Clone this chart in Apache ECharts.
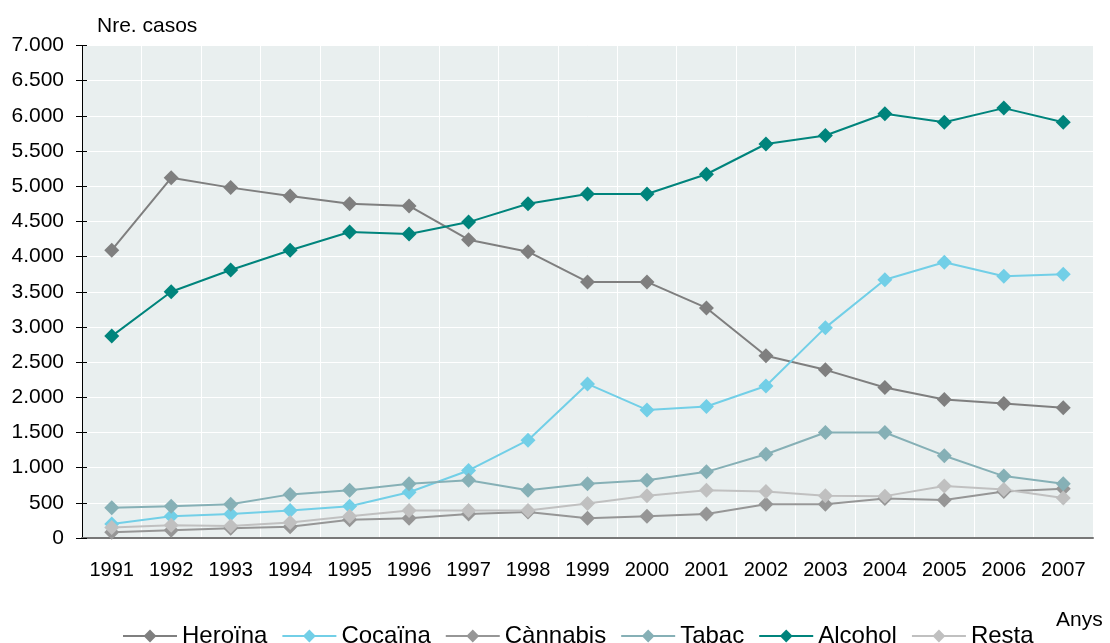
<!DOCTYPE html>
<html>
<head>
<meta charset="utf-8">
<script src="https://cdn.jsdelivr.net/npm/echarts@6/dist/echarts.min.js"></script>
<style>
  html, body { margin: 0; padding: 0; background: #fff; }
  #chart { width: 1110px; height: 643px; }
</style>
</head>
<body>
<div id="chart"></div>
<script>
var years = ['1991', '1992', '1993', '1994', '1995', '1996', '1997', '1998', '1999',
    '2000', '2001', '2002', '2003', '2004', '2005', '2006', '2007'];

var heroina = [4090, 5120, 4980, 4860, 4750, 4720, 4240, 4070, 3640, 3640, 3270, 2590, 2390, 2140, 1970, 1910, 1850];
var cocaina = [200, 310, 340, 390, 450, 650, 960, 1390, 2190, 1820, 1870, 2160, 2990, 3670, 3920, 3720, 3750];
var cannabis = [80, 110, 140, 160, 260, 280, 340, 370, 280, 310, 340, 480, 480, 560, 540, 660, 700];
var tabac = [430, 450, 480, 620, 680, 770, 820, 680, 770, 820, 940, 1190, 1500, 1500, 1170, 880, 770];
var alcohol = [2870, 3500, 3810, 4090, 4350, 4320, 4490, 4750, 4890, 4890, 5170, 5600, 5720, 6030, 5910, 6110, 5910];
var resta = [150, 180, 170, 220, 310, 390, 390, 390, 490, 600, 680, 660, 600, 595, 740, 690, 570];

var seriesNames = ['Heroïna', 'Cocaïna', 'Cànnabis', 'Tabac', 'Alcohol', 'Resta'];
var seriesData = [heroina, cocaina, cannabis, tabac, alcohol, resta];
var seriesColors = ['#7f7f7f', '#72cfe7', '#969696', '#86b0b6', '#00847c', '#c0c0c0'];

var fontFamily = '"Liberation Sans", Arial, sans-serif';

var chart = echarts.init(document.getElementById('chart'));

function thousands(v) {
    return String(v).replace(/\B(?=(\d{3})+(?!\d))/g, '.');
}

var series = seriesNames.map(function (name, i) {
    return {
        name: name,
        type: 'line',
        data: seriesData[i],
        symbol: 'diamond',
        symbolSize: 15,
        showAllSymbol: true,
        animation: false,
        itemStyle: { color: seriesColors[i] },
        lineStyle: { color: seriesColors[i], width: 2 },
        emphasis: { disabled: true }
    };
});

var option = {
    backgroundColor: '#ffffff',
    textStyle: { fontFamily: fontFamily },
    title: [{
        text: 'Nre. casos',
        left: 92,
        top: 11,
        textStyle: { fontSize: 21, fontWeight: 'normal', color: '#000', fontFamily: fontFamily }
    }, {
        text: 'Anys',
        left: 1051,
        top: 605,
        textStyle: { fontSize: 21, fontWeight: 'normal', color: '#000', fontFamily: fontFamily }
    }],
    legend: {
        data: seriesNames,
        left: 117,
        top: 619,
        itemWidth: 54,
        itemHeight: 16,
        itemGap: 14,
        textStyle: { fontSize: 24, color: '#000', fontFamily: fontFamily }
    },
    grid: {
        left: 82,
        right: 17,
        top: 45.5,
        bottom: 105,
        show: true,
        backgroundColor: '#e9efef',
        borderWidth: 0
    },
    xAxis: {
        type: 'category',
        data: years,
        boundaryGap: true,
        axisLine: { lineStyle: { color: '#777', width: 2 } },
        axisTick: { interval: 1, length: 6, lineStyle: { color: '#000' } },
        axisLabel: { interval: 0, margin: 22, fontSize: 20, color: '#000', fontFamily: fontFamily },
        splitLine: { show: true, interval: 0, lineStyle: { color: '#ffffff', width: 1 } }
    },
    yAxis: [{
        type: 'value',
        min: 0,
        max: 7000,
        interval: 500,
        axisLine: { show: true, lineStyle: { color: '#000', width: 1 } },
        axisTick: { show: true, length: 6, lineStyle: { color: '#000' } },
        axisLabel: {
            margin: 18, fontSize: 21, color: '#000', fontFamily: fontFamily,
            formatter: thousands
        },
        splitLine: { show: true, lineStyle: { color: '#ffffff', width: 1 } }
    }, {
        // inner half of the crossing ticks
        type: 'value',
        position: 'left',
        min: 0,
        max: 7000,
        interval: 500,
        axisLine: { show: false },
        axisTick: { show: true, inside: true, length: 5, lineStyle: { color: '#000' } },
        axisLabel: { show: false },
        splitLine: { show: false }
    }],
    series: series
};

chart.setOption(option);
</script>
</body>
</html>
